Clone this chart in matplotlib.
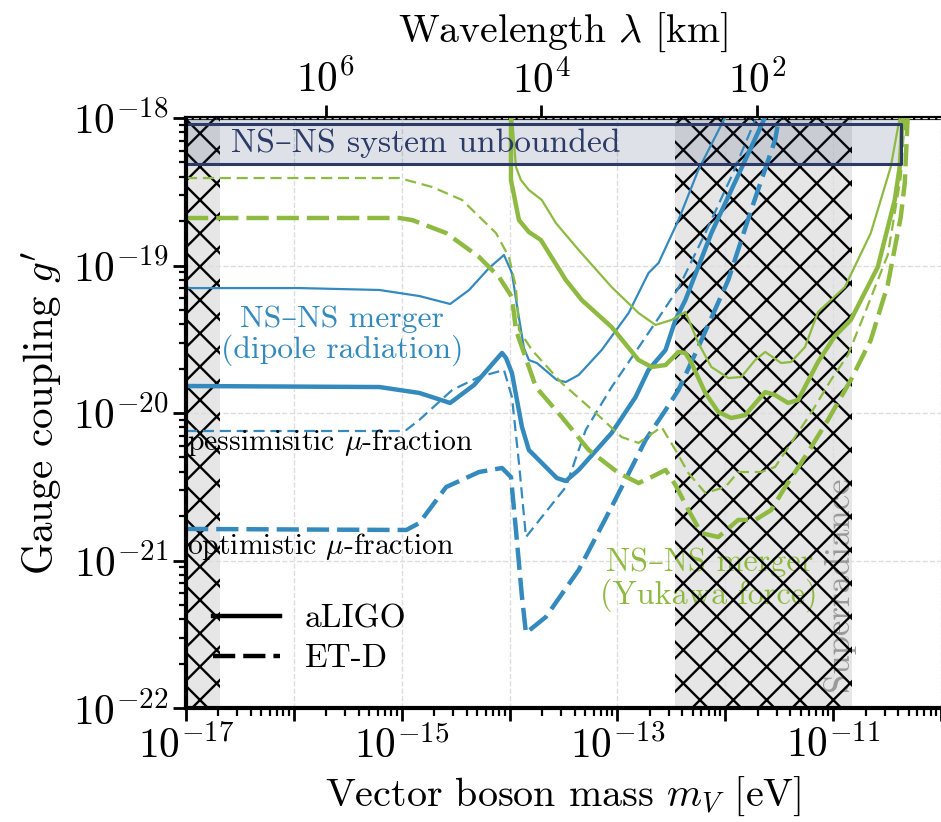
import numpy as np
import matplotlib
matplotlib.use("Agg")
import matplotlib.pyplot as plt
from matplotlib.ticker import LogLocator, FuncFormatter, NullLocator, NullFormatter

# the hatch spacing follows the dpi, so draw at 100 dpi and scale every size by S
DPI = 100
S = 200 / DPI

plt.rcParams['font.family'] = ['cmr10', 'DejaVu Serif']
plt.rcParams['mathtext.fontset'] = 'cm'
plt.rcParams['axes.formatter.use_mathtext'] = True
plt.rcParams['axes.unicode_minus'] = True
plt.rcParams['hatch.linewidth'] = 0.85 * S

BLUE = '#348ABD'
GREEN = '#8EBA42'
NAVY = '#2b3a67'

# hbar*c in eV km, for the reduced wavelength on the top axis
HBARC = 1.97327e-10

# --- dipole radiation bounds (log10 m [eV], log10 g') ---
aligo_pess_logm = [-17, -15.946, -15.207, -14.837, -14.551, -14.375, -14.190, -14.052, -13.978, -13.932,
                   -13.867, -13.848, -13.821, -13.747, -13.562, -13.479, -13.359, -13.146, -12.896,
                   -12.712, -12.619, -12.434, -12.250, -12.000]
aligo_pess_logg = [-19.153, -19.153, -19.166, -19.207, -19.261, -19.166, -19.017, -18.929, -19.051, -19.268,
                   -19.559, -19.593, -19.641, -19.661, -19.776, -19.790, -19.742, -19.573, -19.322,
                   -19.051, -18.983, -18.692, -18.353, -17.993]

aligo_opt_logm = [-17, -15.207, -14.837, -14.551, -14.329, -14.070, -14.033, -13.978, -13.885, -13.821,
                  -13.710, -13.562, -13.479, -13.359, -13.054, -12.832, -12.712, -12.554, -12.462,
                  -12.370, -12.129, -11.815, -11.630]
aligo_opt_logg = [-19.817, -19.824, -19.864, -19.932, -19.810, -19.593, -19.627, -19.729, -20.095, -20.251,
                  -20.332, -20.441, -20.461, -20.386, -20.136, -19.892, -19.708, -19.573, -19.369,
                  -19.234, -18.780, -18.285, -17.993]

etd_pess_logm = [-17, -15.022, -14.957, -14.837, -14.532, -14.283, -14.052, -13.978, -13.913, -13.848,
                 -13.701, -13.479, -13.294, -13.054, -12.832, -12.619, -12.434, -12.185, -11.945, -11.723]
etd_pess_logg = [-20.122, -20.122, -20.115, -20.047, -19.844, -19.756, -19.708, -19.892, -20.339, -20.841,
                 -20.705, -20.502, -20.115, -19.824, -19.586, -19.356, -19.153, -18.780, -18.400, -18.014]

etd_opt_logm = [-17, -15.022, -14.957, -14.837, -14.588, -14.283, -14.070, -13.987, -13.941, -13.885,
                -13.848, -13.664, -13.359, -13.054, -12.739, -12.554, -12.434, -12.250, -11.972,
                -11.760, -11.538, -11.501]
etd_opt_logg = [-20.786, -20.793, -20.793, -20.746, -20.502, -20.400, -20.373, -20.434, -20.793, -21.247,
                -21.492, -21.383, -21.064, -20.637, -20.183, -19.980, -19.844, -19.553, -19.098,
                -18.624, -18.149, -17.993]

# --- Yukawa force bounds ---
yuk_aligo_opt_logm = [-13.987, -13.987, -13.913, -13.821, -13.710, -13.479, -13.331, -13.054, -12.804, -12.684,
                      -12.554, -12.434, -12.370, -12.314, -12.185, -12.065, -11.945, -11.815, -11.695,
                      -11.630, -11.538, -11.418, -11.325, -11.140, -10.983, -10.836, -10.586, -10.429,
                      -10.383, -10.355]
yuk_aligo_opt_logg = [-17.98, -18.420, -18.692, -18.773, -18.827, -19.098, -19.234, -19.417, -19.641, -19.688,
                      -19.675, -19.586, -19.593, -19.661, -19.864, -19.993, -20.034, -20.014, -19.912,
                      -19.858, -19.878, -19.932, -19.912, -19.654, -19.478, -19.369, -19.010, -18.556,
                      -18.332, -17.993]

yuk_aligo_pess_logm = [-13.978, -13.941, -13.895, -13.821, -13.701, -13.571, -13.359, -13.054, -12.804,
                       -12.647, -12.499, -12.370, -12.250, -12.129, -11.972, -11.852, -11.723, -11.630,
                       -11.482, -11.390, -11.261, -11.140, -10.891, -10.651, -10.466, -10.383]
yuk_aligo_pess_logg = [-17.98, -18.332, -18.420, -18.488, -18.556, -18.712, -18.895, -19.146, -19.322,
                       -19.403, -19.369, -19.315, -19.525, -19.688, -19.763, -19.756, -19.641, -19.586,
                       -19.661, -19.654, -19.553, -19.315, -19.146, -18.780, -18.332, -18.0]

yuk_etd_pess_logm = [-17, -15.022, -14.717, -14.440, -14.126, -14.006, -13.941, -13.913, -13.793, -13.516,
                     -13.201, -12.961, -12.804, -12.591, -12.462, -12.342, -12.185, -12.000, -11.880,
                     -11.667, -11.538, -11.390, -11.205, -11.020, -10.863, -10.706, -10.494, -10.373,
                     -10.336]
yuk_etd_pess_logg = [-18.407, -18.407, -18.468, -18.556, -18.780, -18.942, -19.146, -19.437, -19.573, -19.797,
                     -20.000, -20.163, -20.203, -20.095, -20.251, -20.407, -20.542, -20.502, -20.400,
                     -20.400, -20.366, -20.203, -20.000, -19.776, -19.607, -19.322, -18.929, -18.400,
                     -18.0]

yuk_etd_opt_logm = [-17, -15.022, -14.902, -14.588, -14.283, -14.098, -13.978, -13.941, -13.756, -13.516,
                    -13.266, -12.989, -12.804, -12.684, -12.554, -12.462, -12.342, -12.222, -12.065,
                    -11.880, -11.723, -11.575, -11.445, -11.261, -11.048, -10.836, -10.651, -10.494,
                    -10.373, -10.336, -10.309]
yuk_etd_opt_logg = [-18.678, -18.678, -18.692, -18.780, -18.942, -19.078, -19.214, -19.437, -19.824, -20.027,
                    -20.251, -20.407, -20.475, -20.434, -20.386, -20.488, -20.658, -20.814, -20.841,
                    -20.725, -20.725, -20.658, -20.502, -20.298, -20.047, -19.776, -19.505, -19.132,
                    -18.671, -18.441, -17.993]

# excluded regions
superrad_left = (1e-17, 2.05e-17)
superrad_right = (3.45e-13, 1.48e-11)
unbound_mmax = 4.3e-11
unbound_g = (4.85e-19, 9.06e-19)


def m2lam(m):
    m = np.asarray(m, dtype=float)
    with np.errstate(divide='ignore'):
        return HBARC / m


fig = plt.figure(figsize=(941 / DPI, 822 / DPI), dpi=DPI)
ax = fig.add_axes([186 / 941, 1 - 708 / 822, 755 / 941, 590 / 822])
ax.set_xscale('log')
ax.set_yscale('log')
ax.set_xlim(1e-17, 1e-10)
ax.set_ylim(1e-22, 1e-18)

# superradiance bands
for lo, hi in [superrad_left, superrad_right]:
    ax.axvspan(lo, hi, facecolor='#e6e6e6', edgecolor='none', zorder=0)
    ax.axvspan(lo, hi, facecolor='none', edgecolor='k', hatch='x', linewidth=0, zorder=1.5)

# unbounded system
ax.fill_between([1e-17, unbound_mmax], unbound_g[0], 1e-17, color=NAVY, alpha=0.15, linewidth=0, zorder=1.6)
ax.plot([1e-17, unbound_mmax, unbound_mmax, 1e-17, 1e-17],
        [unbound_g[0], unbound_g[0], unbound_g[1], unbound_g[1], unbound_g[0]],
        color=NAVY, lw=1.1 * S, zorder=2.5)
ax.text(1.66e-15, 6.7e-19, 'NS\u2013NS system unbounded', color=NAVY, fontsize=12.1 * S,
        ha='center', va='center', zorder=3)

thick = 1.6 * S
thin = 0.8 * S
dash_thick = (5, 1.8)
dash_thin = (5, 2.6)

curves = [
    (aligo_pess_logm, aligo_pess_logg, BLUE, thin, None),
    (aligo_opt_logm, aligo_opt_logg, BLUE, thick, None),
    (etd_pess_logm, etd_pess_logg, BLUE, thin, dash_thin),
    (etd_opt_logm, etd_opt_logg, BLUE, thick, dash_thick),
    (yuk_aligo_pess_logm, yuk_aligo_pess_logg, GREEN, thin, None),
    (yuk_aligo_opt_logm, yuk_aligo_opt_logg, GREEN, thick, None),
    (yuk_etd_pess_logm, yuk_etd_pess_logg, GREEN, thin, dash_thin),
    (yuk_etd_opt_logm, yuk_etd_opt_logg, GREEN, thick, dash_thick),
]
for lm, lg, c, lw, ds in curves:
    line, = ax.plot(10 ** np.array(lm), 10 ** np.array(lg), color=c, lw=lw, zorder=2)
    if ds is not None:
        line.set_dashes(ds)

ax.text(2.8e-16, 3.33e-20, 'NS\u2013NS merger\n(dipole radiation)', color=BLUE, fontsize=11.4 * S,
        ha='center', va='center', linespacing=1.05, zorder=1.2)
ax.text(1.03e-17, 6.3e-21, r'pessimisitic $\mu$-fraction', fontsize=10.7 * S, ha='left', va='center', zorder=3)
ax.text(1.03e-17, 1.25e-21, r'optimistic $\mu$-fraction', fontsize=10.7 * S, ha='left', va='center', zorder=3)
ax.text(7.1e-13, 7.4e-22, 'NS\u2013NS merger\n(Yukawa force)', color=GREEN, fontsize=11.6 * S,
        ha='center', va='center', linespacing=1.05, zorder=1.2)
ax.text(1.13e-11, 1.3e-22, 'Superradiance', color='gray', alpha=0.75, fontsize=12.5 * S, rotation=90,
        ha='center', va='bottom', zorder=1.2)

# legend
ax.plot([], [], color='k', lw=thick, label='aLIGO')
ax.plot([], [], color='k', lw=thick, dashes=dash_thick, label='ET-D')
ax.legend(loc='upper left', bbox_to_anchor=(0.036, 0.176), frameon=False, fontsize=12 * S,
          handlelength=2.0, handletextpad=0.75, labelspacing=0.32, borderpad=0, borderaxespad=0)

# axes styling
ax.grid(True, which='major', color='#dddddd', ls='--', lw=0.5 * S, zorder=0.5)
ax.set_axisbelow(True)
ax.xaxis.set_major_locator(LogLocator(base=10, numticks=20))
ax.xaxis.set_minor_locator(LogLocator(base=10, subs=np.arange(2, 10), numticks=20))
ax.xaxis.set_minor_formatter(NullFormatter())


def odd_decades(v, pos):
    e = int(round(np.log10(v)))
    return r'$10^{%d}$' % e if e % 2 != 0 else ''


ax.xaxis.set_major_formatter(FuncFormatter(odd_decades))
ax.tick_params(which='major', length=4.6 * S, width=1.0 * S, labelsize=14.9 * S, direction='out')
ax.tick_params(which='minor', length=2.7 * S, width=0.8 * S, direction='out')
for side in ['left', 'bottom']:
    ax.spines[side].set_linewidth(1.5 * S)
ax.spines['right'].set_visible(False)
ax.spines['top'].set_visible(False)

ax.set_xlabel("Vector boson mass $m_V$ [eV]", fontsize=14.4 * S, labelpad=3 * S)
ax.set_ylabel("Gauge coupling $g'$", fontsize=14.8 * S, labelpad=3 * S)

secax = ax.secondary_xaxis('top', functions=(m2lam, m2lam))
secax.set_xticks([1e6, 1e4, 1e2])
secax.xaxis.set_minor_locator(NullLocator())
secax.tick_params(which='major', length=4.6 * S, width=1.0 * S, labelsize=14.9 * S, direction='out')
secax.spines['top'].set_linewidth(1.5 * S)
secax.set_xlabel(r'Wavelength $\lambda$ [km]', fontsize=14.3 * S, labelpad=6.5 * S)

fig.savefig('out.png', dpi=DPI)
